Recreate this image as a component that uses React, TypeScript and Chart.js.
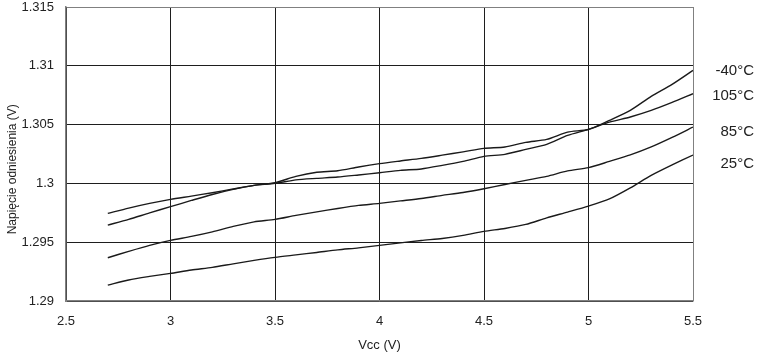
import React, { useEffect, useRef } from "react";
import { Chart, registerables } from "chart.js";

Chart.register(...registerables);

const vcc = [2.7, 2.8, 2.9, 3.0, 3.1, 3.2, 3.3, 3.4, 3.5, 3.6, 3.7, 3.8, 3.9, 4.0, 4.1, 4.2, 4.3, 4.4, 4.5, 4.6, 4.7, 4.8, 4.9, 5.0, 5.1, 5.2, 5.3, 5.4, 5.5];

const tMinus40 = [1.29645, 1.29694, 1.29749, 1.29802, 1.29855, 1.29906, 1.29949, 1.29983, 1.30006, 1.3006, 1.30095, 1.30108, 1.3014, 1.30168, 1.30191, 1.30213, 1.3024, 1.30268, 1.30298, 1.3031, 1.30349, 1.30374, 1.30436, 1.30459, 1.30536, 1.30621, 1.3074, 1.30842, 1.30961];
const t105 = [1.29745, 1.2979, 1.2983, 1.29864, 1.29892, 1.29921, 1.29953, 1.29983, 1.3, 1.3003, 1.30043, 1.30054, 1.30072, 1.30091, 1.30111, 1.30123, 1.30153, 1.30187, 1.3023, 1.30247, 1.30289, 1.30332, 1.30408, 1.30459, 1.30521, 1.30565, 1.30621, 1.30689, 1.30763];
const t85 = [1.29368, 1.29422, 1.29473, 1.29515, 1.29549, 1.29588, 1.29634, 1.29673, 1.29694, 1.29728, 1.29758, 1.29787, 1.29813, 1.2983, 1.29851, 1.29872, 1.29898, 1.29923, 1.29955, 1.29991, 1.30026, 1.3006, 1.30106, 1.30134, 1.30187, 1.30242, 1.3031, 1.30391, 1.30479];
const t25 = [1.29135, 1.29179, 1.29209, 1.29235, 1.29264, 1.29286, 1.29316, 1.29345, 1.29371, 1.29392, 1.29413, 1.29435, 1.29452, 1.29473, 1.29494, 1.29515, 1.29532, 1.29558, 1.29592, 1.29617, 1.29651, 1.29707, 1.29756, 1.29807, 1.29868, 1.29962, 1.30068, 1.30157, 1.30241];

const seriesNames = ["-40°C", "105°C", "85°C", "25°C"];
const seriesValues = [tMinus40, t105, t85, t25];
// vertical anchor (in volts) of each series' name, written right of the plot
const nameAnchors = [1.30955, 1.30742, 1.30436, 1.30162];

const xTicks = [2.5, 3, 3.5, 4, 4.5, 5, 5.5];
const yTicks = [1.29, 1.295, 1.3, 1.305, 1.31, 1.315];

const xTitle = "Vcc (V)";
const yTitle = "Napięcie odniesienia (V)";
// the y title is centred a little below the middle of the axis
const yTitleAnchor = 1.3012;

const FONT = "'Liberation Sans', Arial, Helvetica, sans-serif";
const TEXT = "#222222";
const GRID = "#1e1e1e";
const FRAME = "#808080";

const textPlugin = {
  id: "extraText",
  afterDatasetsDraw(chart: any) {
    const { ctx, scales } = chart;
    ctx.save();
    ctx.font = `15px ${FONT}`;
    ctx.fillStyle = TEXT;
    ctx.textAlign = "right";
    ctx.textBaseline = "middle";
    const xRight = chart.width - 3;
    seriesNames.forEach((n, i) => {
      ctx.fillText(n, xRight, scales.y.getPixelForValue(nameAnchors[i]));
    });
    ctx.translate(scales.y.left + 13, scales.y.getPixelForValue(yTitleAnchor));
    ctx.rotate(-Math.PI / 2);
    ctx.font = `12px ${FONT}`;
    ctx.textAlign = "center";
    ctx.fillText(yTitle, 0, 0);
    ctx.restore();
  },
};

export default function App() {
  const ref = useRef<HTMLCanvasElement | null>(null);

  useEffect(() => {
    if (!ref.current) return;
    const datasets = seriesNames.map((name, i) => ({
      label: name,
      data: vcc.map((x, j) => ({ x, y: seriesValues[i][j] })),
      borderColor: "#1a1a1a",
      borderWidth: 1.4,
      pointRadius: 0,
      fill: false,
      tension: 0.25,
    }));

    const chart = new Chart(ref.current, {
      type: "line",
      data: { datasets },
      options: {
        animation: false,
        responsive: false,
        devicePixelRatio: 1,
        layout: { padding: { top: 7, right: 64, left: 0, bottom: 0 } },
        plugins: {
          legend: { display: false },
          tooltip: { enabled: false },
        },
        scales: {
          x: {
            type: "linear",
            min: 2.5,
            max: 5.5,
            afterFit: (s: any) => {
              s.height = 54;
            },
            afterBuildTicks: (s: any) => {
              s.ticks = xTicks.map((v) => ({ value: v }));
            },
            ticks: {
              padding: 13,
              color: TEXT,
              font: { family: FONT, size: 13 },
              callback: (v: any) => String(v),
              maxRotation: 0,
            },
            grid: {
              drawTicks: false,
              lineWidth: 1,
              color: (c: any) => (c.tick && c.tick.value === 5.5 ? FRAME : GRID),
            },
            border: { display: true, color: FRAME, width: 1.5 },
            title: {
              display: true,
              text: xTitle,
              color: TEXT,
              font: { family: FONT, size: 13 },
              padding: { top: 0, bottom: 2 },
            },
          },
          y: {
            type: "linear",
            min: 1.29,
            max: 1.315,
            afterFit: (s: any) => {
              s.width = 66;
            },
            afterBuildTicks: (s: any) => {
              s.ticks = yTicks.map((v) => ({ value: v }));
            },
            ticks: {
              padding: 0,
              color: TEXT,
              font: { family: FONT, size: 13, lineHeight: 1 },
              callback: (v: any) => String(parseFloat(Number(v).toFixed(3))),
            },
            grid: {
              drawTicks: true,
              tickLength: 12,
              tickColor: "rgba(0,0,0,0)",
              lineWidth: 1,
              color: (c: any) => (c.tick && Math.abs(c.tick.value - 1.315) < 1e-9 ? FRAME : GRID),
            },
            border: { display: true, color: FRAME, width: 1.5 },
            title: { display: false },
          },
        },
      },
      plugins: [textPlugin],
    });
    return () => chart.destroy();
  }, []);

  return (
    <div style={{ position: "absolute", left: 0, top: 0, width: 757, height: 355, background: "#fff" }}>
      <canvas ref={ref} width={757} height={355} style={{ display: "block" }} />
    </div>
  );
}
